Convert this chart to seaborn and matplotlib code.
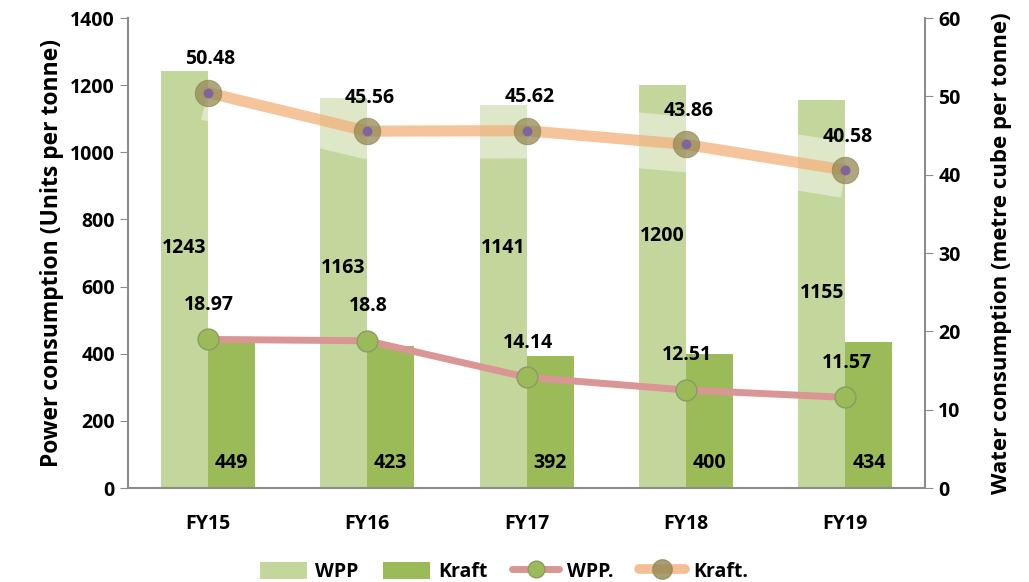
import numpy as np
import pandas as pd
import matplotlib
matplotlib.use("Agg")
import matplotlib.pyplot as plt
import seaborn as sns
from matplotlib.patches import Patch
from matplotlib.lines import Line2D

# dados
anos = ["FY15", "FY16", "FY17", "FY18", "FY19"]
energia_wpp = [1243, 1163, 1141, 1200, 1155]
energia_kraft = [449, 423, 392, 400, 434]
agua_wpp = [18.97, 18.8, 14.14, 12.51, 11.57]
agua_kraft = [50.48, 45.56, 45.62, 43.86, 40.58]

# altura (eixo esquerdo) dos rotulos das barras WPP, como no original
rotulo_wpp_y = [715, 655, 715, 751, 581]
rotulo_kraft_y = 75

COR_WPP_BAR = "#c3d69b"
COR_KRAFT_BAR = "#9bbb59"
COR_WPP_LINHA = "#d99694"
COR_KRAFT_LINHA = "#f2b07a"
COR_KRAFT_MARC = "#938953"
COR_ROXO = "#8064a2"
COR_EIXO = "#8c8c8c"
FS = 14

sns.set_style("white")
plt.rcParams["font.family"] = ["Open Sans", "DejaVu Sans"]
plt.rcParams["font.weight"] = "bold"
plt.rcParams["text.color"] = "black"
plt.rcParams["axes.labelcolor"] = "black"

df = pd.DataFrame({
    "ano": anos * 2,
    "valor": energia_wpp + energia_kraft,
    "tipo": ["WPP"] * len(anos) + ["Kraft"] * len(anos),
})

fig = plt.figure(figsize=(10.29, 5.82), dpi=100)
ax = fig.add_axes([0.1244, 0.1615, 0.7746, 0.8075])

sns.barplot(data=df, x="ano", y="valor", hue="tipo", order=anos, hue_order=["WPP", "Kraft"],
            palette=[COR_WPP_BAR, COR_KRAFT_BAR], width=0.59, saturation=1,
            linewidth=0, ax=ax, legend=False)
ax.set_xlim(-0.5, len(anos) - 0.5)
ax.set_ylim(0, 1400)
ax.set_yticks(range(0, 1401, 200))
ax.set_xlabel("")
ax.set_ylabel("Power consumption (Units per tonne)", fontsize=16.5, fontweight="bold", labelpad=4)
ax.tick_params(axis="both", labelsize=FS, colors="black")
ax.tick_params(axis="y", length=6, color=COR_EIXO, direction="out", left=True)
ax.tick_params(axis="x", length=0, pad=19)
for lab in ax.get_xticklabels() + ax.get_yticklabels():
    lab.set_fontweight("bold")

x = np.arange(len(anos))
meia = 0.59 / 4
for i in range(len(anos)):
    ax.text(x[i] - meia, rotulo_wpp_y[i], str(energia_wpp[i]), ha="center", va="center",
            fontsize=FS, fontweight="bold")
    ax.text(x[i] + meia, rotulo_kraft_y, str(energia_kraft[i]), ha="center", va="center",
            fontsize=FS, fontweight="bold")

ax2 = ax.twinx()
ax2.set_ylim(0, 60)
ax2.set_yticks(range(0, 61, 10))
ax2.set_ylabel("Water consumption (metre cube per tonne)", fontsize=16, fontweight="bold",
               rotation=90, labelpad=22)
ax2.tick_params(axis="y", labelsize=FS, length=6, color=COR_EIXO, direction="out", right=True,
                colors="black")
ax2.tick_params(axis="y", color=COR_EIXO)
for lab in ax2.get_yticklabels():
    lab.set_fontweight("bold")

# brilho branco atras da linha Kraft
ax2.plot(x, agua_kraft, color="white", lw=40, alpha=0.45, solid_capstyle="butt",
         solid_joinstyle="round", zorder=1)
sns.lineplot(x=x, y=agua_kraft, ax=ax2, color=COR_KRAFT_LINHA, lw=8, alpha=0.75,
             marker="o", markersize=19, markerfacecolor=COR_KRAFT_MARC,
             markeredgecolor=COR_KRAFT_MARC, legend=False, zorder=3)
ax2.plot(x, agua_kraft, ls="none", marker="o", markersize=6, color=COR_ROXO, zorder=4)
sns.lineplot(x=x, y=agua_wpp, ax=ax2, color=COR_WPP_LINHA, lw=5,
             marker="o", markersize=15, markerfacecolor=COR_KRAFT_BAR,
             markeredgecolor="#8a9a6a", markeredgewidth=1, legend=False, zorder=3)

for i in range(len(anos)):
    ax2.annotate(f"{agua_kraft[i]:g}", (x[i], agua_kraft[i]), xytext=(2, 24),
                 textcoords="offset points", ha="center", va="center",
                 fontsize=FS, fontweight="bold")
    ax2.annotate(f"{agua_wpp[i]:g}", (x[i], agua_wpp[i]), xytext=(1, 25),
                 textcoords="offset points", ha="center", va="center",
                 fontsize=FS, fontweight="bold")

for a in (ax, ax2):
    a.spines["top"].set_visible(False)
    for s in ("left", "right", "bottom"):
        a.spines[s].set_color(COR_EIXO)
        a.spines[s].set_linewidth(1.5)
ax.spines["right"].set_visible(False)
ax2.spines["left"].set_visible(False)
ax2.spines["bottom"].set_visible(False)

handles = [
    Patch(facecolor=COR_WPP_BAR, edgecolor="none"),
    Patch(facecolor=COR_KRAFT_BAR, edgecolor="none"),
    Line2D([], [], color=COR_WPP_LINHA, lw=5, marker="o", markersize=12,
           markerfacecolor=COR_KRAFT_BAR, markeredgecolor="#8a9a6a"),
    Line2D([], [], color=COR_KRAFT_LINHA, lw=7, alpha=0.8, marker="o", markersize=14,
           markerfacecolor=COR_KRAFT_MARC, markeredgecolor=COR_KRAFT_MARC),
]
fig.legend(handles, ["WPP", "Kraft", "WPP.", "Kraft."], loc="lower center",
           bbox_to_anchor=(0.49, -0.03), ncol=4, frameon=False,
           prop={"size": FS, "weight": "bold"}, handlelength=2.4, handleheight=1.0,
           columnspacing=1.3, handletextpad=0.4)

fig.savefig("out.png", dpi=100)
